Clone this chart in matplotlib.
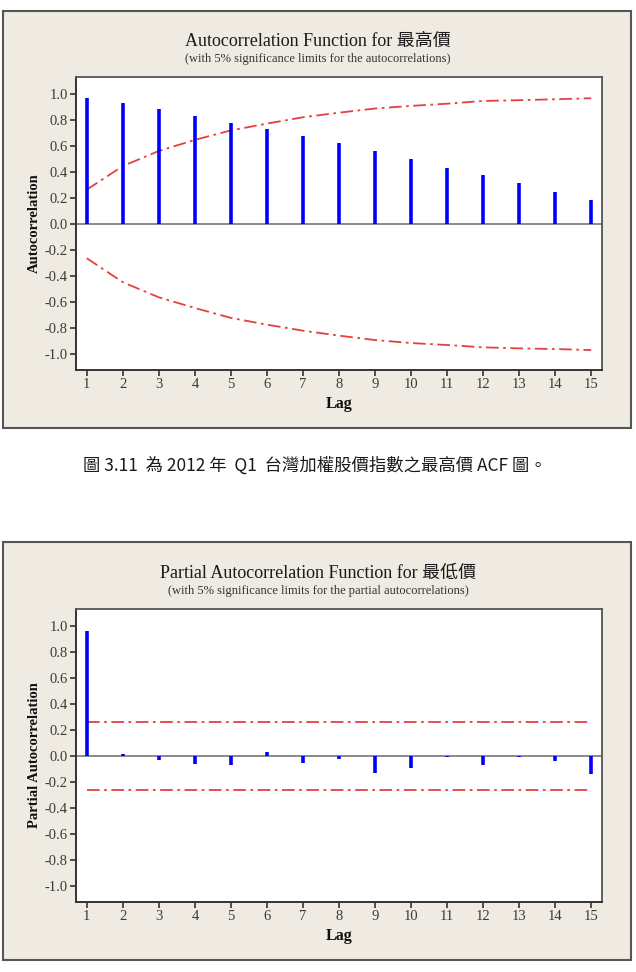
import matplotlib
matplotlib.use("Agg")
import matplotlib.pyplot as plt
from matplotlib.patches import Rectangle
import numpy as np

plt.rcParams['axes.unicode_minus'] = False

# ---------------- data ----------------
lags = list(range(1, 16))
acf_values = [0.969, 0.928, 0.887, 0.828, 0.777, 0.728, 0.677, 0.626,
              0.559, 0.500, 0.433, 0.374, 0.315, 0.249, 0.187]
acf_upper = [0.265, 0.446, 0.562, 0.647, 0.720, 0.772, 0.821, 0.856,
             0.888, 0.908, 0.925, 0.946, 0.952, 0.959, 0.967]
acf_lower = [-0.262, -0.446, -0.562, -0.644, -0.720, -0.772, -0.818, -0.856,
             -0.890, -0.913, -0.928, -0.946, -0.954, -0.959, -0.967]
pacf_values = [0.964, 0.015, -0.026, -0.060, -0.070, 0.030, -0.050, -0.020,
               -0.128, -0.090, -0.005, -0.070, -0.005, -0.035, -0.138]
pacf_limit = 0.260
yticks = [-1.0, -0.8, -0.6, -0.4, -0.2, 0.0, 0.2, 0.4, 0.6, 0.8, 1.0]

title1 = "Autocorrelation Function for 最高價"
sub1 = "(with 5% significance limits for the autocorrelations)"
ylab1 = "Autocorrelation"
title2 = "Partial Autocorrelation Function for 最低價"
sub2 = "(with 5% significance limits for the partial autocorrelations)"
ylab2 = "Partial Autocorrelation"
xlab = "Lag"
caption = "圖 3.11  為 2012 年  Q1  台灣加權股價指數之最高價 ACF 圖。"

# ---------------- layout ----------------
W, H = 636, 972
fig = plt.figure(figsize=(W / 100, H / 100), dpi=100)
fig.patch.set_facecolor('white')

serif = ['Liberation Serif', 'Noto Sans CJK TC', 'DejaVu Serif']
panel_bg = '#EFEBE2'
edge = '#555555'
bar_color = '#0000FF'
lim_color = '#E5403C'
dash = (0, (7, 2.5, 1.5, 2.5))


def fx(px):
    return px / W


def fy(py):
    return 1 - py / H


def panel(top, bottom):
    r = Rectangle((fx(3), fy(bottom)), fx(628), (bottom - top) / H,
                  transform=fig.transFigure, facecolor=panel_bg,
                  edgecolor=edge, lw=1.5, zorder=-10)
    fig.patches.append(r)


def setup_axes(top, bottom, ylabel):
    ax = fig.add_axes([fx(76), fy(bottom), fx(602 - 76), (bottom - top) / H])
    ax.set_zorder(5)
    ax.set_facecolor('white')
    ax.set_xlim(0.7, 15.3)
    ax.set_ylim(-1.12, 1.13)
    ax.set_xticks(lags)
    ax.set_xticklabels([str(l) for l in lags])
    ax.set_yticks(yticks)
    ax.set_yticklabels([f"{v:.1f}" for v in yticks])
    for s in ['top', 'right']:
        ax.spines[s].set_color('#555555')
        ax.spines[s].set_linewidth(1.3)
    for s in ['left', 'bottom']:
        ax.spines[s].set_color('#333333')
        ax.spines[s].set_linewidth(1.4)
    ax.tick_params(axis='both', direction='out', length=4, width=1.2,
                   colors='#333333', labelsize=10.5, pad=2)
    for lab in ax.get_xticklabels() + ax.get_yticklabels():
        lab.set_family(serif)
        lab.set_color('#3a3a3a')
    ax.axhline(0, color='#808080', lw=1.3, zorder=1)
    ax.set_xlabel(xlab, family=serif, fontsize=11.5, color='#111111',
                  labelpad=3, fontweight='semibold')
    ax.set_ylabel(ylabel, family=serif, fontsize=10.5, color='#111111',
                  labelpad=4, fontweight='semibold')
    ax.yaxis.set_label_coords(-0.066, 0.5)
    return ax


# ---------- top panel (ACF) ----------
panel(11, 428)
ax1 = setup_axes(77, 370, ylab1)
ax1.vlines(lags, 0, acf_values, color=bar_color, lw=2.6, zorder=3)
ax1.plot(lags, acf_upper, color=lim_color, lw=1.3, ls=dash, zorder=2)
ax1.plot(lags, acf_lower, color=lim_color, lw=1.3, ls=dash, zorder=2)
fig.text(fx(318), fy(41), title1, ha='center', va='center', family=serif,
         fontsize=13, color='#1a1a1a')
fig.text(fx(318), fy(59), sub1, ha='center', va='center', family=serif,
         fontsize=9, color='#333333')

# ---------- caption ----------
fig.text(fx(315), fy(466), caption, ha='center', va='center',
         family=['Noto Sans CJK TC', 'DejaVu Sans'], fontsize=12.5,
         color='#1a1a1a')

# ---------- bottom panel (PACF) ----------
panel(542, 960)
ax2 = setup_axes(609, 902, ylab2)
ax2.vlines(lags, 0, pacf_values, color=bar_color, lw=2.6, zorder=3)
ax2.plot([lags[0], lags[-1]], [pacf_limit, pacf_limit], color=lim_color,
         lw=1.3, ls=dash, zorder=2)
ax2.plot([lags[0], lags[-1]], [-pacf_limit, -pacf_limit], color=lim_color,
         lw=1.3, ls=dash, zorder=2)
fig.text(fx(318), fy(573), title2, ha='center', va='center', family=serif,
         fontsize=13, color='#1a1a1a')
fig.text(fx(318), fy(591), sub2, ha='center', va='center', family=serif,
         fontsize=9, color='#333333')

fig.savefig('out.png', dpi=100, facecolor='white')
